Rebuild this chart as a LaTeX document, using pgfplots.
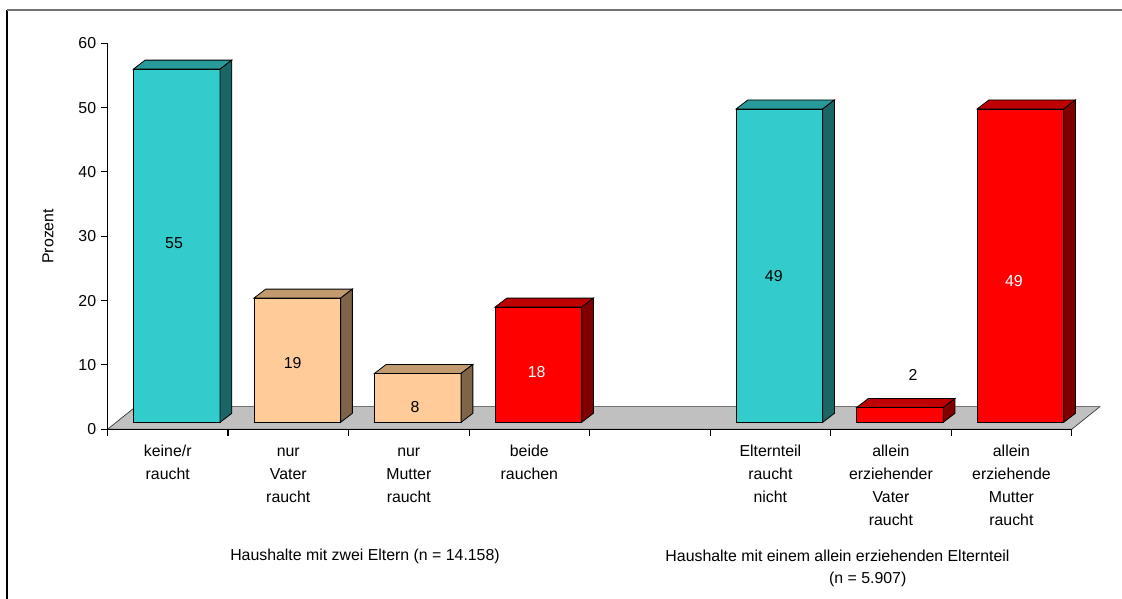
\documentclass[border=0pt]{standalone}
\usepackage{pgfplots}
\pgfplotsset{compat=1.18}
\usepackage{pgfplotstable}
\usepackage{fontspec}
\setmainfont{Liberation Sans}

\definecolor{cyanF}{HTML}{33CCCC}
\definecolor{cyanT}{HTML}{289A9A}
\definecolor{cyanS}{HTML}{1A6666}
\definecolor{peachF}{HTML}{FFCC99}
\definecolor{peachT}{HTML}{C29A70}
\definecolor{peachS}{HTML}{806448}
\definecolor{redF}{HTML}{FF0000}
\definecolor{redT}{HTML}{BF0000}
\definecolor{redS}{HTML}{800000}
\definecolor{floorgray}{HTML}{C0C0C0}

\newcommand\lab{\fontsize{11.9}{14}\selectfont}

\newdimen\boxH \newdimen\boxB \newdimen\boxBB
% 3D top and side faces of a bar, drawn at the data point (top centre of the bar)
\newcommand\declarebox[3]{%
\pgfdeclareplotmark{#1}{%
  \pgfmathsetlength\boxH{4.825pt*\barval}%
  \boxB=5.25pt \advance\boxB by -\boxH
  \boxBB=12pt \advance\boxBB by -\boxH
  \pgfsetlinewidth{0.6pt}\pgfsetstrokecolor{black}%
  \pgfpathmoveto{\pgfqpoint{-25.75pt}{5.25pt}}%
  \pgfpathlineto{\pgfqpoint{39.25pt}{5.25pt}}%
  \pgfpathlineto{\pgfqpoint{48.05pt}{12pt}}%
  \pgfpathlineto{\pgfqpoint{-16.95pt}{12pt}}%
  \pgfpathclose
  \pgfsetfillcolor{#2}\pgfusepath{fill,stroke}%
  \pgfpathmoveto{\pgfqpoint{39.25pt}{5.25pt}}%
  \pgfpathlineto{\pgfqpoint{48.05pt}{12pt}}%
  \pgfpathlineto{\pgfqpoint{48.05pt}{\boxBB}}%
  \pgfpathlineto{\pgfqpoint{39.25pt}{\boxB}}%
  \pgfpathclose
  \pgfsetfillcolor{#3}\pgfusepath{fill,stroke}%
}}
\declarebox{boxcyan}{cyanT}{cyanS}
\declarebox{boxpeach}{peachT}{peachS}
\declarebox{boxred}{redT}{redS}

\pgfplotstableread{
x y
0 54.9
5 48.7
}\cyandata
\pgfplotstableread{
x y
1 19.3
2 7.6
}\peachdata
\pgfplotstableread{
x y
3 17.9
6 2.3
7 48.7
}\reddata

\pgfplotsset{
  front/.style={ybar, bar width=65pt, bar shift=6.75pt, yshift=5.25pt,
    draw=black, line width=0.6pt, fill=#1},
  faces/.style={scatter, only marks, mark=#1,
    visualization depends on={\thisrow{y}\as\barval},
    scatter/@pre marker code/.code={}, scatter/@post marker code/.code={}},
}

\begin{document}
\begin{tikzpicture}
\useasboundingbox (0,0) rectangle (841.5pt,449.25pt);
\begin{axis}[
  at={(80.625pt,127.275pt)}, anchor=south west,
  scale only axis, width=723.15pt, height=289.5pt,
  xmin=-0.5, xmax=7.5, ymin=0, ymax=60,
  axis lines*=left,
  axis line style={line width=0.8pt, black},
  axis on top, clip=false,
  xtick={0,1,2,3,5,6,7},
  xticklabels={{\strut keine/r\\raucht},{\strut nur\\Vater\\raucht},{\strut nur\\Mutter\\raucht},{\strut beide\\rauchen},{\strut Elternteil\\raucht\\nicht},{\strut allein\\erziehender\\Vater\\raucht},{\strut allein\\erziehende\\Mutter\\raucht}},
  xticklabel style={align=center, font=\fontsize{11.9}{17.25}\selectfont, yshift=0pt},
  major x tick style={draw=none},
  minor xtick={-0.5,0.5,...,7.5},
  ytick={0,10,...,60},
  tick align=outside, major tick length=5pt, minor tick length=5pt,
  tick style={black, line width=0.8pt},
  yticklabel style={font=\lab, /pgf/number format/assume math mode=true},
  ylabel={Prozent},
  ylabel style={at={(axis description cs:-0.0617,0.5)}, anchor=center, font=\lab},
]
% floor
\draw[fill=floorgray, draw=black!80, line width=0.5pt]
  (axis cs:-0.5,0) -- (axis cs:7.5,0)
  -- ([xshift=21.2pt,yshift=17pt]axis cs:7.5,0)
  -- ([xshift=21.2pt,yshift=17pt]axis cs:-0.5,0) -- cycle;

\addplot[front=cyanF] table {\cyandata};
\addplot[faces=boxcyan] table {\cyandata};
\addplot[front=peachF] table {\peachdata};
\addplot[faces=boxpeach] table {\peachdata};
\addplot[front=redF] table {\reddata};
\addplot[faces=boxred] table {\reddata};

\node[font=\lab] at (axis cs:0.052,28.96) {55};
\node[font=\lab] at (axis cs:1.037,10.35) {19};
\node[font=\lab] at (axis cs:2.051,3.51) {8};
\node[font=\lab, text=white] at (axis cs:3.061,8.95) {18};
\node[font=\lab] at (axis cs:5.028,23.88) {49};
\node[font=\lab] at (axis cs:6.183,8.44) {2};
\node[font=\lab, text=white] at (axis cs:7.021,23.1) {49};
\end{axis}
\node[font=\lab] at (273.75pt,32pt) {Haushalte mit zwei Eltern (n = 14.158)};
\node[font=\lab] at (628.1pt,32pt) {Haushalte mit einem allein erziehenden Elternteil};
\node[font=\lab] at (650.8pt,14.5pt) {(n = 5.907)};
\draw[black, line width=1pt] (5.25pt,0) -- (5.25pt,441.75pt);
\draw[black!55, line width=1.3pt] (5.25pt,441.75pt) -- (841.5pt,441.75pt);
\end{tikzpicture}
\end{document}
